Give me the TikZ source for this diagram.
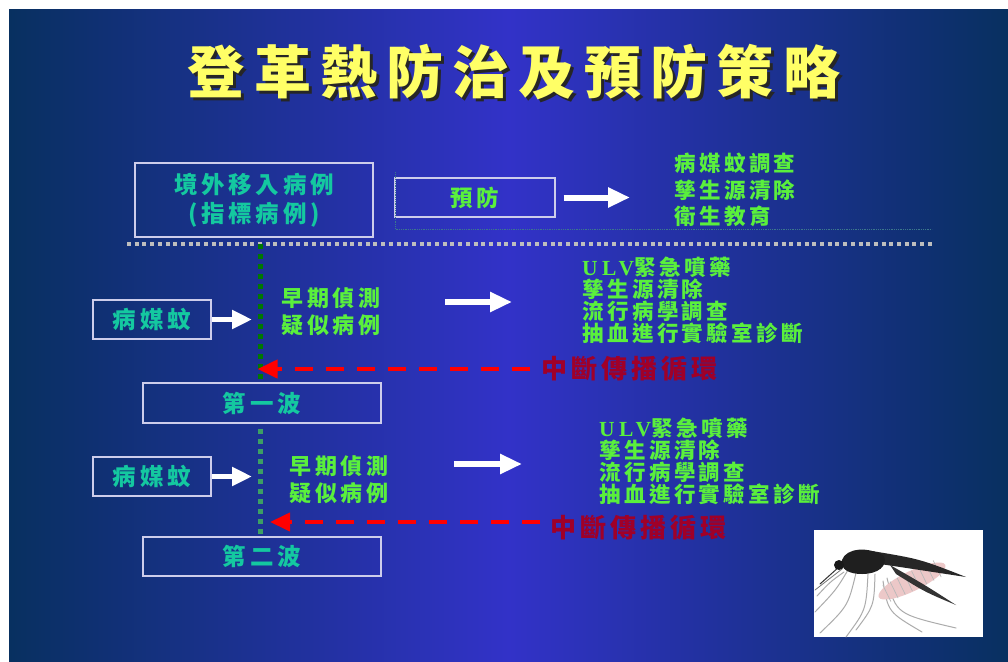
\documentclass[tikz,border=0pt]{standalone}
\usepackage{fontspec}
\setmainfont{Liberation Sans}
\newfontfamily\cjk[LetterSpace=16]{Noto Sans CJK TC}
\newfontfamily\ulv[LetterSpace=20]{Liberation Serif}
\usetikzlibrary{arrows.meta}

\definecolor{slidedark}{RGB}{8,48,96}
\definecolor{slidemid}{RGB}{50,50,200}
\definecolor{titleyellow}{RGB}{255,255,102}
\definecolor{tealtext}{RGB}{20,200,160}
\definecolor{limetext}{RGB}{90,240,60}
\definecolor{cutred}{RGB}{160,0,40}
\definecolor{boxline}{RGB}{205,205,235}
\definecolor{sepgray}{RGB}{190,190,190}
\definecolor{dotgreen}{RGB}{0,120,0}
\definecolor{dotgreenb}{RGB}{60,160,100}
\definecolor{faintteal}{RGB}{60,120,140}
\definecolor{bellypink}{RGB}{236,200,200}

\tikzset{
  titlefont/.style={font=\cjk\bfseries\fontsize{57}{60}\selectfont},
  framebox/.style={draw=boxline,line width=1.3pt,minimum height=39pt,inner sep=0pt},
  tealtxt/.style={text=tealtext,font=\cjk\bfseries\fontsize{23.5}{29}\selectfont},
  limetxt/.style={text=limetext,font=\cjk\bfseries\fontsize{22}{27}\selectfont,align=left},
  limelist/.style={text=limetext,font=\cjk\bfseries\fontsize{21.5}{22}\selectfont,align=left,inner sep=0pt},
  cuttxt/.style={text=cutred,font=\cjk\bfseries\fontsize{26}{28}\selectfont,inner sep=0pt},
  blockarrow/.style={draw=white,line width=6pt,-{Triangle[length=22pt,width=19pt]}},
  cutarrow/.style={draw=red,line width=4pt,dash pattern=on 18pt off 13pt,
    -{Triangle[length=20pt,width=18pt]}},
  sepline/.style={draw=sepgray,line width=4pt,dash pattern=on 4pt off 3.7pt},
  leg/.style={draw=gray!65,line width=1pt},
}

\begin{document}
\begin{tikzpicture}[x=1pt,y=-1pt]
\useasboundingbox (0,0) rectangle (1008,661);
\fill[white] (0,0) rectangle (1008,661);
\shade[left color=slidedark,right color=slidedark,middle color=slidemid] (9,10) rectangle (1008,661);

% title with shadow
\node[titlefont,text=black!85] (titleshadow) at (517,75) {登革熱防治及預防策略};
\node[titlefont,text=titleyellow] (title) at (514,72) {登革熱防治及預防策略};

% imported case and prevention
\node[framebox,tealtxt,minimum width=238pt,minimum height=74pt,align=center] (import) at (254,200) {境外移入病例\\(指標病例)};
\node[framebox,limetxt,font=\cjk\bfseries\fontsize{22.5}{27}\selectfont,minimum width=160pt] (prevent) at (475,197.5) {預防};
\draw[faintteal,densely dotted,line width=0.8pt] (395,172) |- (932,229);
\node[limelist,anchor=west,font=\cjk\bfseries\fontsize{21.5}{26.5}\selectfont] (preventlist) at (674,190) {病媒蚊調查\\孳生源清除\\衛生教育};
\draw[blockarrow,shorten <=8pt,shorten >=44pt] (prevent.east) -- (prevent.east -| preventlist.west);

% separator
\draw[sepline] (127,244) -- (932,244);
\coordinate (top1) at (260,244);

% first wave
\node[framebox,tealtxt,minimum width=118pt] (vector1) at (152,319.5) {病媒蚊};
\node[framebox,tealtxt,minimum width=238pt,minimum height=40pt] (wave1) at (262,403) {第一波};
\draw[dotgreen,line width=5pt,dash pattern=on 5pt off 5pt] (top1) -- (top1 |- wave1.north);
\draw[blockarrow,line width=5pt,-{Triangle[length=20pt,width=18pt]},shorten >=8pt] (vector1.east) -- (vector1.east -| top1);
\node[limetxt,anchor=west] (detect1) at (278,311.5) {早期偵測\\疑似病例};
\coordinate (go1) at (445,302);
\draw[blockarrow] (go1) -- ++(67,0);
\node[limelist,anchor=west] (measures1) at (582,300.5) {{\ulv ULV}緊急噴藥\\孳生源清除\\流行病學調查\\抽血進行實驗室診斷};
\node[cuttxt,anchor=west] (cut1) at (541,369) {中斷傳播循環};
\draw[cutarrow,shorten <=11pt,shorten >=-2.5pt] (cut1.west) -- (cut1.west -| top1);

% second wave
\node[framebox,tealtxt,minimum width=118pt] (vector2) at (152,476.5) {病媒蚊};
\node[framebox,tealtxt,minimum width=238pt] (wave2) at (262,556.5) {第二波};
\draw[dotgreenb,line width=5pt,dash pattern=on 5pt off 5pt,shorten <=5pt] (top1 |- wave1.south) -- (top1 |- wave2.north);
\draw[blockarrow,line width=5pt,-{Triangle[length=20pt,width=18pt]},shorten >=8pt] (vector2.east) -- (vector2.east -| top1);
\node[limetxt,anchor=west] (detect2) at (286,480) {早期偵測\\疑似病例};
\coordinate (go2) at (454,464);
\draw[blockarrow] (go2) -- ++(68,0);
\node[limelist,anchor=west] (measures2) at (599,461) {{\ulv ULV}緊急噴藥\\孳生源清除\\流行病學調查\\抽血進行實驗室診斷};
\node[cuttxt,anchor=west] (cut2) at (550,528) {中斷傳播循環};
\draw[cutarrow,shorten <=10pt,shorten >=10pt] ([yshift=6pt]cut2.west) -- ([yshift=6pt]cut2.west -| top1);

% mosquito
\node[fill=white,minimum width=169pt,minimum height=107pt,inner sep=0pt] (mosquito) at (898.5,583.5) {};
\begin{scope}[line cap=round]
  % legs
  \draw[leg] (848,570) .. controls (836,590) .. (815,612);
  \draw[leg] (844,572) .. controls (830,582) .. (817,596);
  \draw[leg] (856,573) .. controls (848,606) .. (820,633);
  \draw[leg] (868,574) .. controls (866,610) .. (846,637);
  \draw[leg] (875,574) .. controls (874,606) .. (856,630);
  \draw[leg] (887,578) .. controls (896,614) .. (956,628);
  \draw[leg] (883,581) .. controls (888,612) .. (922,632);
  % mouth parts
  \draw[black!80,line width=1pt] (840,566) -- (820,584);
  \draw[black!55,line width=0.8pt] (842,569) -- (815,590);
  % abdomen
  \fill[bellypink,rotate around={26:(912,581)}] (912,581) ellipse (37pt and 10pt);
  \foreach \s in {884,892,...,940}
    \draw[gray!55,line width=0.7pt,rotate around={26:(912,581)}] (\s,572) -- (\s,590);
  % wings
  \fill[black!85] (872,551) .. controls (920,559) .. (966,577) .. controls (920,570) .. (880,564) -- cycle;
  \fill[black!80] (890,565) .. controls (925,585) .. (956,605) .. controls (925,592) .. (896,574) -- cycle;
  % thorax and head
  \fill[black!88] (842,560) .. controls (846,548) and (868,546) .. (884,556)
    .. controls (888,566) and (878,574) .. (862,574)
    .. controls (850,574) and (840,570) .. cycle;
  \fill[black!90] (839,565) circle (5pt);
\end{scope}
\end{tikzpicture}
\end{document}
